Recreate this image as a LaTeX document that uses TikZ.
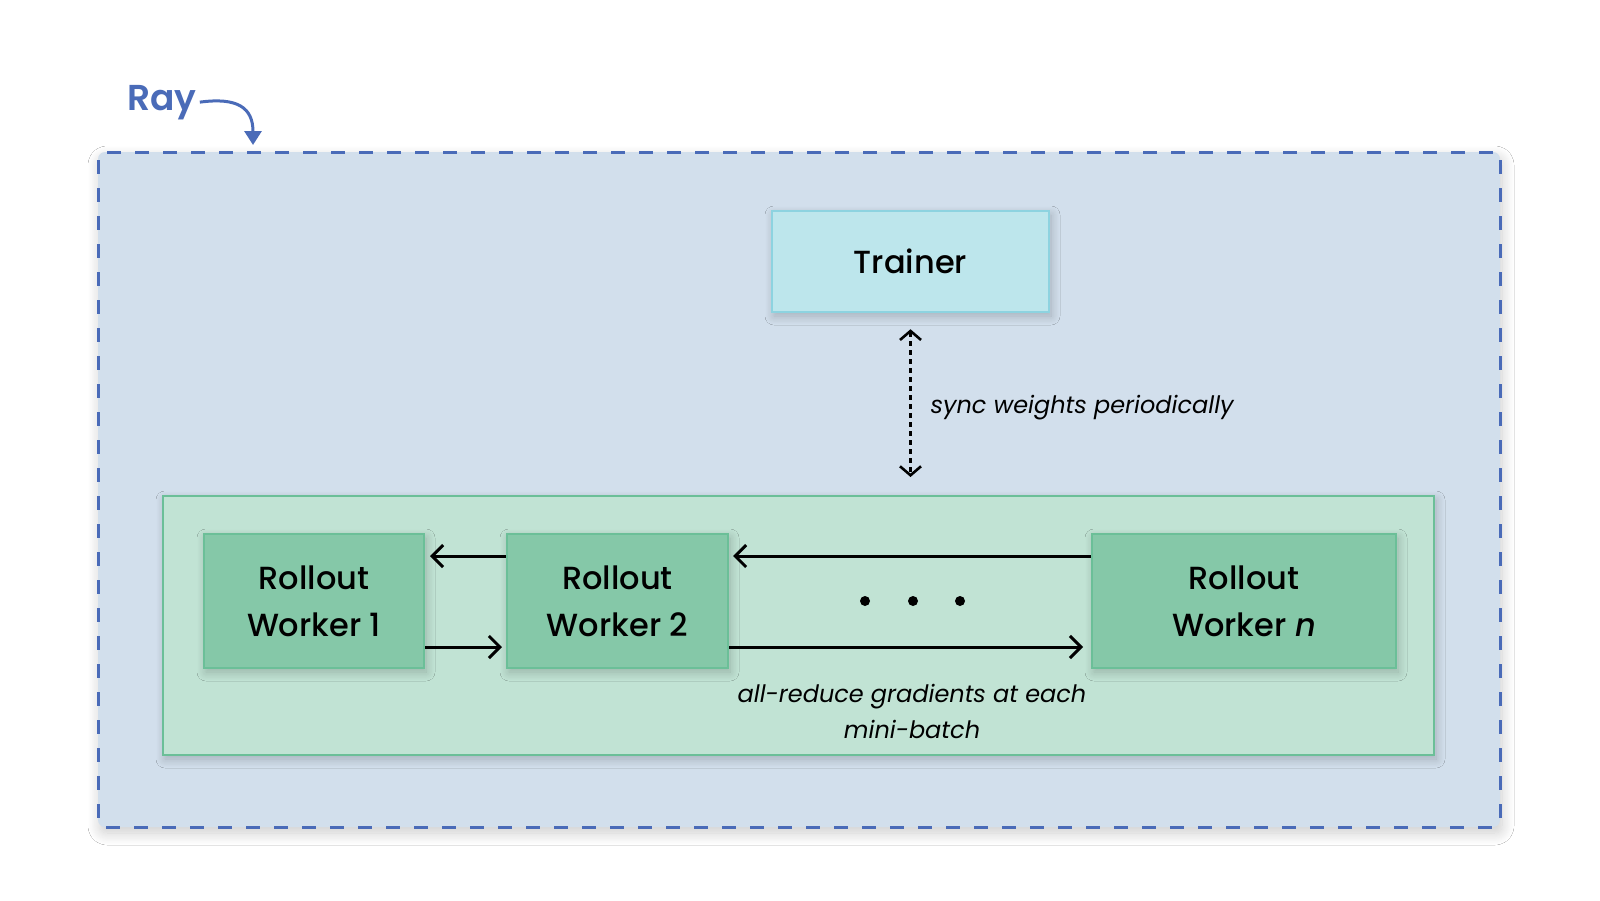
\documentclass[tikz,border=0pt]{standalone}
\usepackage{fontspec}
\setmainfont{Poppins}[UprightFont={* Medium},ItalicFont={* Medium Italic},BoldFont={* SemiBold}]
\newfontfamily\lblfamily{Poppins}
\usetikzlibrary{arrows.meta,shadows.blur}
\definecolor{raybd}{HTML}{4A6BB8}
\definecolor{rayfill}{HTML}{D2DFEC}
\definecolor{trfill}{HTML}{BDE6EC}
\definecolor{trbd}{HTML}{8DD3E0}
\definecolor{grfill}{HTML}{C1E3D4}
\definecolor{grbd}{HTML}{6BBF98}
\definecolor{wkfill}{HTML}{85C8A8}
\begin{document}
\begin{tikzpicture}[x=1pt,y=-1pt,
  shad/.style={blur shadow={shadow blur steps=12,shadow xshift=2pt,shadow yshift=-4pt,shadow opacity=22,shadow blur radius=9pt}},
  raybox/.style={draw=raybd,fill=rayfill,line width=3pt,dash pattern=on 14pt off 14pt,rounded corners=7pt,
    blur shadow={shadow blur steps=14,shadow xshift=2pt,shadow yshift=-6pt,shadow opacity=20,shadow blur radius=12pt}},
  trainerbox/.style={draw=trbd,fill=trfill,line width=2.5pt,shad,font=\fontsize{32}{40}\selectfont},
  groupbox/.style={draw=grbd,fill=grfill,line width=2pt,shad},
  workerbox/.style={draw=grbd,fill=wkfill,line width=2pt,shad,align=center,font=\fontsize{32}{47}\selectfont},
  flow/.style={line width=3pt,-{Straight Barb[length=11pt,width=22pt,line width=3pt]}},
  syncarrow/.style={line width=2.6pt,dash pattern=on 5pt off 4pt,{Straight Barb[length=9pt,width=21pt,line width=2.6pt]}-{Straight Barb[length=9pt,width=21pt,line width=2.6pt]}},
  lbl/.style={font=\lblfamily\fontsize{24}{36}\selectfont\itshape},
  dotnode/.style={circle,fill=black,inner sep=0pt,minimum size=10pt}
]
\useasboundingbox (0,0) rectangle (1600,900);
\fill[white] (0,0) rectangle (1600,900);

\node[raybox,minimum width=1402pt,minimum height=675pt] (ray) at (799,489.5) {};
\node[font=\fontsize{36}{40}\selectfont\bfseries,text=raybd,anchor=base,inner sep=3pt] (raylbl) at (162,110) {Ray};
\coordinate (rayend) at (253,145);
\draw[raybd,line width=3pt,-{Triangle[length=14pt,width=17pt]}] (raylbl.east) .. controls (238,97) and (253,108) .. (rayend);

\node[trainerbox,minimum width=277pt,minimum height=101pt] (trainer) at (910.5,261.5) {Trainer};

\node[groupbox,minimum width=1271pt,minimum height=259pt] (group) at (798.5,625.5) {};

\node[workerbox,minimum width=220pt,minimum height=134pt] (w1) at (314,601) {Rollout\\Worker 1};
\node[workerbox,minimum width=221pt,minimum height=134pt] (w2) at (617.5,601) {Rollout\\Worker 2};
\node[workerbox,minimum width=304pt,minimum height=134pt] (wn) at (1244,601) {Rollout\\Worker \textit{n}};

\draw[syncarrow,shorten <=16pt,shorten >=18pt] (trainer.south) -- (trainer.south |- group.north);
\node[lbl,anchor=base west] (synclbl) at (927,413) {sync weights periodically};

\draw[flow,shorten >=5pt] ([yshift=45pt]w2.west) -- ([yshift=45pt]w1.east);
\draw[flow,shorten >=4pt] ([yshift=-46pt]w1.east) -- ([yshift=-46pt]w2.west);
\draw[flow,shorten >=4pt] ([yshift=45pt]wn.west) -- ([yshift=45pt]w2.east);
\draw[flow,shorten >=8pt] ([yshift=-46pt]w2.east) -- ([yshift=-46pt]wn.west);

\node[dotnode] (d1) at (865,601) {};
\node[dotnode] (d2) at (913,601) {};
\node[dotnode] (d3) at (960,601) {};

\node[lbl,align=center] (arlbl) at (912,711) {all-reduce gradients at each\\mini-batch};
\end{tikzpicture}
\end{document}
